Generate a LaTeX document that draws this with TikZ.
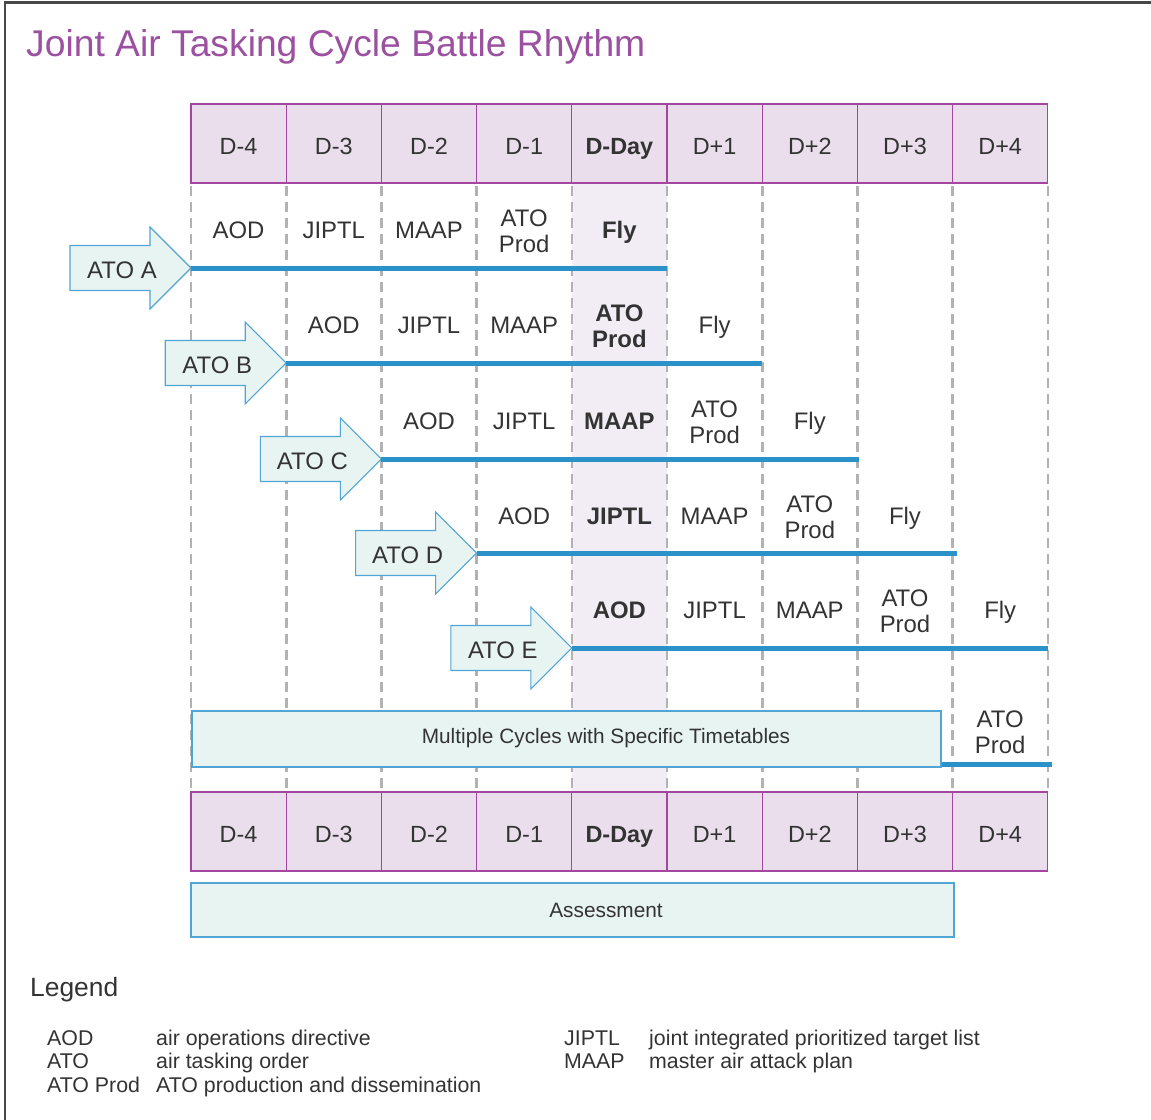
\documentclass[tikz,border=0pt]{standalone}
\usepackage{fontspec}
\setmainfont{Liberation Sans}
\usetikzlibrary{positioning,calc}

\definecolor{hdrfill}{RGB}{234,222,237}
\definecolor{hdrline}{RGB}{163,70,160}
\definecolor{dayfill}{RGB}{242,236,245}
\definecolor{gridgray}{RGB}{178,178,178}
\definecolor{cycblue}{RGB}{42,146,200}
\definecolor{boxfill}{RGB}{231,244,242}
\definecolor{boxline}{RGB}{80,165,212}
\definecolor{txt}{RGB}{51,51,51}
\definecolor{titlecol}{RGB}{155,80,160}
\definecolor{framecol}{RGB}{72,72,72}

\tikzset{
  daycell/.style={draw=hdrline, fill=hdrfill, line width=1.3bp, minimum width=95.2bp,
    minimum height=79bp, inner sep=0pt, text height=21bp, text depth=0bp, text=txt,
    font=\fontsize{23.5}{26}\selectfont},
  gridline/.style={draw=gridgray, line width=2.6bp, dash pattern=on 10bp off 6bp},
  phasetwo/.style={text=txt, align=center, inner sep=0pt, font=\fontsize{24}{26}\selectfont},
  phase/.style={phasetwo, text height=17.2bp, text depth=0bp},
  phasekey/.style={phase, font=\fontsize{24}{26}\selectfont\bfseries},
  phasetwokey/.style={phasetwo, font=\fontsize{24}{26}\selectfont\bfseries},
  atoshape/.style={draw=boxline, fill=boxfill, line width=1.1bp, line join=miter},
  atotext/.style={text=txt, inner sep=0pt, text height=17.2bp, text depth=0bp,
    font=\fontsize{24}{26}\selectfont},
  cycleline/.style={draw=cycblue, line width=5bp},
  spanbox/.style={draw=boxline, fill=boxfill, line width=1.3bp, inner sep=0pt},
  spantext/.style={text=txt, inner sep=0pt, font=\fontsize{20.9}{24}\selectfont},
  legtext/.style={text=txt, inner sep=0pt, anchor=base west, font=\fontsize{21.4}{24}\selectfont},
}

\begin{document}
\begin{tikzpicture}[x=1bp,y=-1bp]
  \useasboundingbox (0,0) rectangle (1151,1120);
%%
  % frame
  \draw[framecol, line width=2.6bp] (5,1120) -- (5,2.5) -- (1151,2.5);
  \node[text=titlecol, anchor=base west, inner sep=0pt, font=\fontsize{37.4}{40}\selectfont]
    (title) at (26,56) {Joint Air Tasking Cycle Battle Rhythm};
  % D-Day column
  \fill[dayfill] (571.8,183) rectangle (666.6,792);
  % Grid
  \foreach \i in {0,...,9}
    \draw[gridline] (191+95.2*\i,186) -- (191+95.2*\i,792);
  % Node: header and footer days
  \foreach \lab [count=\i from 0] in {D-4,D-3,D-2,D-1,\textbf{D-Day},D+1,D+2,D+3,D+4} {
    \node[daycell] (h\i) at (238.6+95.2*\i,143.5) {\lab};
    \node[daycell] (f\i) at (238.6+95.2*\i,831.5) {\lab};
  }
%%
  % Node: ATO A
  \coordinate (tipA) at (191,268);
  \draw[atoshape] (tipA) -- ++(-41,-41) -- ++(0,18.5) -- ++(-80,0) -- ++(0,45)
    -- ++(80,0) -- ++(0,18.5) -- cycle;
  \node[atotext] (atoA) at (122,270) {ATO A};
  \node[phase] (aA1) at (238.6,229.5) {AOD};
  \node[phase] (aA2) at (333.8,229.5) {JIPTL};
  \node[phase] (aA3) at (429.0,229.5) {MAAP};
  \node[phasetwo] (aA4) at (524.2,231) {ATO\\Prod};
  \node[phasekey] (aA5) at (619.4,229.5) {Fly};
  % Edge: ATO A -> D+1
  \coordinate (endA) at (666.6,268);
  \draw[cycleline] (tipA) -- (endA);
%%
  % Node: ATO B
  \coordinate (tipB) at (286.2,363);
  \draw[atoshape] (tipB) -- ++(-41,-41) -- ++(0,18.5) -- ++(-80,0) -- ++(0,45)
    -- ++(80,0) -- ++(0,18.5) -- cycle;
  \node[atotext] (atoB) at (217.2,365) {ATO B};
  \node[phase] (aB1) at (333.8,324.5) {AOD};
  \node[phase] (aB2) at (429.0,324.5) {JIPTL};
  \node[phase] (aB3) at (524.2,324.5) {MAAP};
  \node[phasetwokey] (aB4) at (619.4,326) {ATO\\Prod};
  \node[phase] (aB5) at (714.6,324.5) {Fly};
  % Edge: ATO B -> D+2
  \coordinate (endB) at (761.8,363);
  \draw[cycleline] (tipB) -- (endB);
%%
  % Node: ATO C
  \coordinate (tipC) at (381.4,459);
  \draw[atoshape] (tipC) -- ++(-41,-41) -- ++(0,18.5) -- ++(-80,0) -- ++(0,45)
    -- ++(80,0) -- ++(0,18.5) -- cycle;
  \node[atotext] (atoC) at (312.4,461) {ATO C};
  \node[phase] (aC1) at (429.0,420.5) {AOD};
  \node[phase] (aC2) at (524.2,420.5) {JIPTL};
  \node[phasekey] (aC3) at (619.4,420.5) {MAAP};
  \node[phasetwo] (aC4) at (714.6,422) {ATO\\Prod};
  \node[phase] (aC5) at (809.8,420.5) {Fly};
  % Edge: ATO C -> D+3
  \coordinate (endC) at (859,459);
  \draw[cycleline] (tipC) -- (endC);
%%
  % Node: ATO D
  \coordinate (tipD) at (476.6,553);
  \draw[atoshape] (tipD) -- ++(-41,-41) -- ++(0,18.5) -- ++(-80,0) -- ++(0,45)
    -- ++(80,0) -- ++(0,18.5) -- cycle;
  \node[atotext] (atoD) at (407.6,555) {ATO D};
  \node[phase] (aD1) at (524.2,515.5) {AOD};
  \node[phasekey] (aD2) at (619.4,515.5) {JIPTL};
  \node[phase] (aD3) at (714.6,515.5) {MAAP};
  \node[phasetwo] (aD4) at (809.8,517) {ATO\\Prod};
  \node[phase] (aD5) at (905.0,515.5) {Fly};
  % Edge: ATO D -> D+4
  \coordinate (endD) at (957,553);
  \draw[cycleline] (tipD) -- (endD);
%%
  % Node: ATO E
  \coordinate (tipE) at (571.8,648);
  \draw[atoshape] (tipE) -- ++(-41,-41) -- ++(0,18.5) -- ++(-80,0) -- ++(0,45)
    -- ++(80,0) -- ++(0,18.5) -- cycle;
  \node[atotext] (atoE) at (502.8,650) {ATO E};
  \node[phasekey] (aE1) at (619.4,609.5) {AOD};
  \node[phase] (aE2) at (714.6,609.5) {JIPTL};
  \node[phase] (aE3) at (809.8,609.5) {MAAP};
  \node[phasetwo] (aE4) at (905.0,611) {ATO\\Prod};
  \node[phase] (aE5) at (1000.2,609.5) {Fly};
  % Edge: ATO E -> end
  \coordinate (endE) at (1048,648);
  \draw[cycleline] (tipE) -- (endE);
%%
  % Node: multiple cycles
  \node[spanbox, minimum width=749bp, minimum height=56bp] (multi) at (566.5,739) {};
  \node[spantext] (multitext) at (606,738) {Multiple Cycles with Specific Timetables};
  \node[phasetwo] (aF1) at (1000.2,732) {ATO\\Prod};
  % Edge: multi -> end
  \coordinate (endF) at (1052,764.5);
  \draw[cycleline] (multi.south east |- endF) -- (endF);
  % Node: assessment
  \node[spanbox, minimum width=763bp, minimum height=54bp] (assess) at (572.5,910) {};
  \node[spantext] (assesstext) at (606,910) {Assessment};
%%
  % Legend
  \node[text=txt, anchor=base west, inner sep=0pt, font=\fontsize{26.5}{28}\selectfont]
    (legend) at (30,996) {Legend};
  \node[legtext] (k1) at (47,1045) {AOD};
  \node[legtext] (k2) at (47,1068) {ATO};
  \node[legtext] (k3) at (47,1092) {ATO Prod};
  \node[legtext] (d1) at (156,1045) {air operations directive};
  \node[legtext] (d2) at (156,1068) {air tasking order};
  \node[legtext] (d3) at (156,1092) {ATO production and dissemination};
  \node[legtext] (k4) at (564,1045) {JIPTL};
  \node[legtext] (k5) at (564,1068) {MAAP};
  \node[legtext] (d4) at (649,1045) {joint integrated prioritized target list};
  \node[legtext] (d5) at (649,1068) {master air attack plan};
%
\end{tikzpicture}
\end{document}
